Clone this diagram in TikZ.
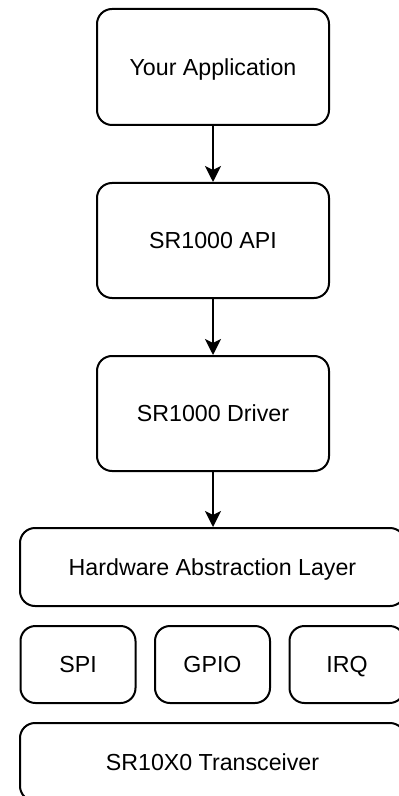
\documentclass[tikz,border=0pt]{standalone}
\usepackage{fontspec}
\setmainfont{Liberation Sans}
\usetikzlibrary{arrows.meta}
\tikzset{
  layer/.style={draw, line width=1pt, rounded corners=7.5pt, fill=white,
    inner sep=0pt, text height=8.3pt, text depth=0pt,
    font=\fontsize{11.6}{13}\selectfont},
  link/.style={line width=1pt, -{Stealth[length=8pt,width=8pt,inset=2pt]}}
}
\begin{document}
\begin{tikzpicture}[x=0.5pt,y=-0.5pt]
	\useasboundingbox (0,0) rectangle (399,796);
	\clip (0,0) rectangle (399,796);
	
	\node[layer,minimum width=116pt,minimum height=58pt] (app) at (213,67) {Your Application};
	\node[layer,minimum width=116pt,minimum height=57.5pt] (api) at (213,240.5) {SR1000 API};
	\node[layer,minimum width=116pt,minimum height=57.5pt] (drv) at (213,413.5) {SR1000 Driver};
	\node[layer,minimum width=192.5pt,minimum height=39pt] (hal) at (212.5,567) {Hardware Abstraction Layer};
	
	\node[layer,minimum width=57.5pt,minimum height=38.5pt] (spi) at (78,664.5) {SPI};
	\node[layer,minimum width=57.5pt,minimum height=38.5pt] (gpio) at (212.5,664.5) {GPIO};
	\node[layer,minimum width=57.5pt,minimum height=38.5pt] (irq) at (347,664.5) {IRQ};
	
	\node[layer,minimum width=192.5pt,minimum height=39pt] (trx) at (212.5,762) {SR10X0 Transceiver};
	
	\draw[link] (app) -- (api);
	\draw[link] (api) -- (drv);
	\draw[link] (drv.south) -- (drv.south |- hal.north);
\end{tikzpicture}
\end{document}
